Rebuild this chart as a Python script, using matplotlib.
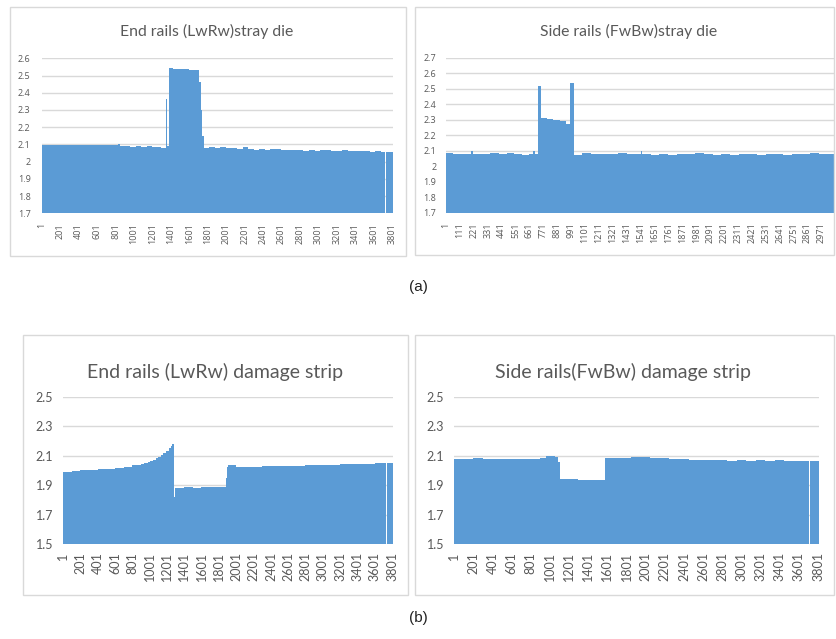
import matplotlib
matplotlib.use("Agg")
import matplotlib.pyplot as plt
from matplotlib.patches import Rectangle
import numpy as np

# ---------------- data (segment start index -> value) ----------------
p1_title = "End rails (LwRw)stray die"
p1_start = [1, 120, 260, 400, 560, 700, 830, 850, 900, 960, 1020, 1080, 1140, 1200, 1260, 1300,
            1346, 1362, 1380, 1420, 1500, 1600, 1712, 1724, 1740, 1757, 1820, 1880, 1940, 2000,
            2060, 2120, 2180, 2240, 2300, 2360, 2420, 2480, 2540, 2600, 2660, 2720, 2780, 2840,
            2900, 2960, 3020, 3080, 3140, 3200, 3260, 3320, 3380, 3440, 3500, 3560, 3620, 3680,
            3722, 3736]
p1_value = [2.095, 2.095, 2.094, 2.095, 2.094, 2.095, 2.102, 2.092, 2.088, 2.086, 2.09, 2.084,
            2.088, 2.083, 2.087, 2.082, 2.362, 2.09, 2.545, 2.54, 2.537, 2.534, 2.46, 2.30, 2.15,
            2.082, 2.085, 2.079, 2.083, 2.077, 2.08, 2.074, 2.083, 2.072, 2.07, 2.074, 2.069,
            2.072, 2.075, 2.068, 2.07, 2.066, 2.069, 2.064, 2.067, 2.063, 2.066, 2.068, 2.063,
            2.061, 2.066, 2.06, 2.063, 2.059, 2.061, 2.057, 2.059, 2.055, 1.7, 2.055]
p1_end = 3810
p1_yticks = [1.7, 1.8, 1.9, 2.0, 2.1, 2.2, 2.3, 2.4, 2.5, 2.6]
p1_xticks = list(range(1, 3802, 200))

p2_title = "Side rails (FwBw)stray die"
p2_start = [1, 60, 120, 200, 215, 280, 350, 420, 480, 540, 600, 660, 690, 705, 725, 751, 800,
            850, 900, 950, 986, 1012, 1080, 1150, 1220, 1290, 1360, 1430, 1500, 1540, 1555, 1620,
            1690, 1760, 1830, 1900, 1970, 2040, 2110, 2180, 2250, 2320, 2390, 2460, 2530, 2600,
            2670, 2740, 2810, 2880, 2950, 3010]
p2_value = [2.085, 2.08, 2.078, 2.095, 2.08, 2.077, 2.082, 2.079, 2.083, 2.08, 2.074, 2.08,
            2.095, 2.08, 2.52, 2.312, 2.306, 2.30, 2.29, 2.275, 2.535, 2.075, 2.082, 2.078, 2.08,
            2.076, 2.082, 2.078, 2.08, 2.095, 2.079, 2.075, 2.078, 2.074, 2.08, 2.077, 2.082,
            2.076, 2.074, 2.079, 2.072, 2.077, 2.08, 2.075, 2.081, 2.078, 2.074, 2.079, 2.076,
            2.082, 2.078, 2.08]
p2_end = 3070
p2_yticks = [1.7, 1.8, 1.9, 2.0, 2.1, 2.2, 2.3, 2.4, 2.5, 2.6, 2.7]
p2_xticks = list(range(1, 2972, 110))

p3_title = "End rails (LwRw) damage strip"
p3_start = [1, 100, 200, 300, 400, 500, 600, 700, 800, 850, 900, 940, 980, 1010, 1040, 1070,
            1100, 1130, 1160, 1190, 1220, 1245, 1265, 1286, 1296, 1400, 1500, 1600, 1700, 1800,
            1880, 1895, 1910, 2000, 2100, 2200, 2300, 2400, 2500, 2600, 2700, 2800, 2900, 3000,
            3100, 3200, 3300, 3400, 3500, 3600, 3726, 3740]
p3_value = [1.99, 1.995, 2.0, 2.004, 2.008, 2.012, 2.017, 2.022, 2.033, 2.037, 2.045, 2.05,
            2.057, 2.064, 2.072, 2.082, 2.092, 2.104, 2.118, 2.133, 2.15, 2.165, 2.18, 1.82,
            1.88, 1.885, 1.882, 1.888, 1.884, 1.886, 1.95, 2.02, 2.035, 2.025, 2.026, 2.024,
            2.027, 2.028, 2.03, 2.029, 2.032, 2.033, 2.034, 2.035, 2.036, 2.04, 2.042, 2.045,
            2.046, 2.048, 1.5, 2.05]
p3_end = 3810
p3_yticks = [1.5, 1.7, 1.9, 2.1, 2.3, 2.5]
p3_xticks = list(range(1, 3802, 200))

p4_title = "Side rails(FwBw) damage strip"
p4_start = [1, 100, 200, 300, 400, 500, 600, 700, 800, 900, 960, 1010, 1060, 1085, 1112, 1200,
            1300, 1400, 1500, 1576, 1650, 1750, 1850, 1950, 2050, 2150, 2250, 2350, 2450, 2550,
            2650, 2750, 2850, 2950, 3050, 3150, 3250, 3350, 3450, 3550, 3650, 3703, 3718]
p4_value = [2.08, 2.078, 2.082, 2.076, 2.08, 2.077, 2.081, 2.076, 2.08, 2.088, 2.097, 2.10,
            2.09, 2.06, 1.945, 1.94, 1.932, 1.936, 1.932, 2.082, 2.085, 2.088, 2.09, 2.092,
            2.088, 2.085, 2.08, 2.076, 2.074, 2.072, 2.07, 2.072, 2.068, 2.07, 2.068, 2.07,
            2.067, 2.07, 2.068, 2.066, 2.068, 1.5, 2.065]
p4_end = 3810
p4_yticks = [1.5, 1.7, 1.9, 2.1, 2.3, 2.5]
p4_xticks = list(range(1, 3802, 200))

sub_labels = ["(a)", "(b)"]

# ---------------- figure ----------------
W, H = 836, 639
fig = plt.figure(figsize=(W / 100, H / 100), dpi=100)
BAR = "#5B9BD5"
GRID = "#D9D9D9"
TXT = "#595959"
FONT = ["Lato", "DejaVu Sans"]
SMALL = ["Open Sans", "DejaVu Sans"]


def px_rect(x0, y0, x1, y1):
    return [x0 / W, 1 - y1 / H, (x1 - x0) / W, (y1 - y0) / H]


def frame(x0, y0, x1, y1):
    fig.patches.append(Rectangle((x0 / W, 1 - y1 / H), (x1 - x0) / W, (y1 - y0) / H,
                                 transform=fig.transFigure, fill=False,
                                 edgecolor=GRID, linewidth=1.0))


def ylabel_fmt(v):
    s = f"{v:.1f}"
    return "2" if s == "2.0" else s


def panel(rect, title, title_xy, title_fs, starts, values, end, yticks, xticks, tfs, tfam,
          pad_y, pad_x):
    ax = fig.add_axes(px_rect(*rect))
    edges = np.array(starts + [end + 1], dtype=float) - 0.5
    ax.stairs(values, edges, baseline=yticks[0], fill=True, color=BAR, linewidth=0)
    ax.set_xlim(0.5, end + 0.5)
    ax.set_ylim(yticks[0], yticks[-1])
    ax.set_yticks(yticks)
    ax.set_yticklabels([ylabel_fmt(v) for v in yticks], fontsize=tfs, color=TXT, family=tfam)
    ax.set_xticks(xticks)
    ax.set_xticklabels([str(v) for v in xticks], rotation=90, fontsize=tfs, color=TXT,
                       family=tfam)
    ax.tick_params(axis="both", length=0)
    ax.tick_params(axis="y", pad=pad_y)
    ax.tick_params(axis="x", pad=pad_x)
    ax.grid(axis="y", color=GRID, linewidth=1.0)
    ax.set_axisbelow(True)
    for s in ax.spines.values():
        s.set_visible(False)
    fig.text(title_xy[0] / W, 1 - title_xy[1] / H, title, ha="center", va="center",
             fontsize=title_fs, color=TXT, family=FONT)
    return ax


frame(10, 7, 406, 256)
frame(415, 7, 834, 255)
frame(23, 335, 408, 595)
frame(415, 335, 834, 595)

panel((41.7, 58.3, 393, 213.3), p1_title, (207, 31), 11.3, p1_start, p1_value, p1_end,
      p1_yticks, p1_xticks, 6.5, SMALL, 8, 7)
panel((446, 57.7, 834, 212.7), p2_title, (629, 31), 11.3, p2_start, p2_value, p2_end,
      p2_yticks, p2_xticks, 6.5, SMALL, 7, 7)
panel((63, 396.7, 393, 544), p3_title, (215, 372), 14, p3_start, p3_value, p3_end,
      p3_yticks, p3_xticks, 9, FONT, 7, 6)
panel((454, 397, 819, 544), p4_title, (623, 372), 14, p4_start, p4_value, p4_end,
      p4_yticks, p4_xticks, 9, FONT, 7, 6)

fig.text(418 / W, 1 - 287 / H, sub_labels[0], ha="center", va="center", fontsize=11,
         color="#222222", family=["Liberation Sans", "DejaVu Sans"])
fig.text(418 / W, 1 - 618 / H, sub_labels[1], ha="center", va="center", fontsize=11,
         color="#222222", family=["Liberation Sans", "DejaVu Sans"])

fig.savefig("out.png", dpi=100, facecolor="white")
